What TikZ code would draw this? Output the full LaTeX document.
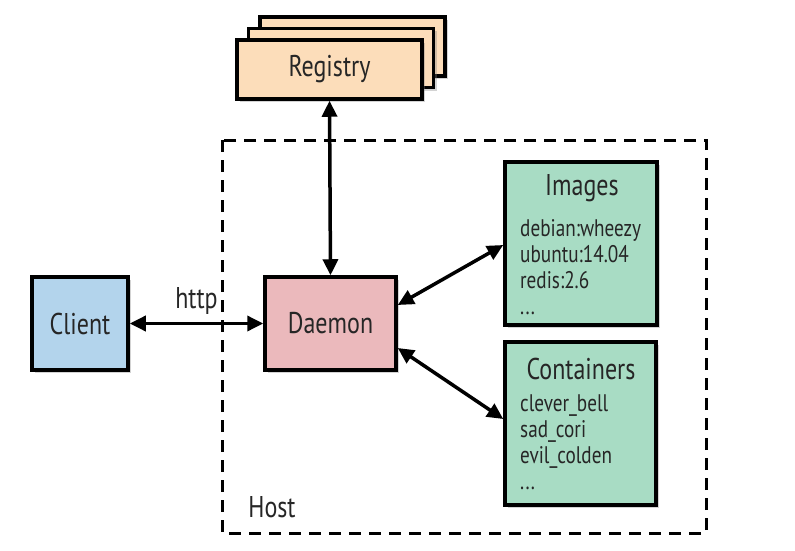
\documentclass[tikz,border=0pt]{standalone}
\usepackage{fontspec}
\setmainfont{PT Sans}[FakeStretch=0.8]
\usetikzlibrary{arrows.meta,shadows}
\definecolor{regfill}{HTML}{FCDDBA}
\definecolor{clifill}{HTML}{B3D4EC}
\definecolor{daefill}{HTML}{EBB9BC}
\definecolor{boxfill}{HTML}{A8DCC4}
\begin{document}
\begin{tikzpicture}[x=1pt,y=-1pt,
  box/.style={draw=black,line width=3.5pt,rectangle,inner sep=0pt,
    drop shadow={opacity=0.35,shadow xshift=3pt,shadow yshift=-3pt},
    font=\fontsize{30}{34}\selectfont,text=black!85},
  title/.style={inner sep=0pt,font=\fontsize{30}{34}\selectfont,text=black!85},
  list/.style={inner sep=0pt,align=left,anchor=north west,
    font=\fontsize{24}{26}\selectfont,text=black!85},
  link/.style={line width=3.5pt,{Triangle[length=16pt,width=15pt]}-{Triangle[length=16pt,width=15pt]}}]
\useasboundingbox (0,0) rectangle (795,551);
% host
\draw [line width=3pt,dash pattern=on 12pt off 8pt] (222,140) rectangle (706,533);
\node [title] (host) at (272,507) {Host};
% registry stack
\node [box,fill=regfill,minimum width=185pt,minimum height=59pt] (reg3) at (352.5,46.5) {};
\node [box,fill=regfill,minimum width=185pt,minimum height=59pt] (reg2) at (341,58) {};
\node [box,fill=regfill,minimum width=185pt,minimum height=59pt] (registry) at (329.5,69.5) {Registry};
% client and daemon
\node [box,fill=clifill,minimum width=96pt,minimum height=93pt] (client) at (80,323.5) {Client};
\node [box,fill=daefill,minimum width=131pt,minimum height=93pt] (daemon) at (330.5,323.5) {Daemon};
% images
\node [box,fill=boxfill,minimum width=152pt,minimum height=163pt] (images) at (581,243.5) {};
\node [title] (imgtitle) at (582,188) {Images};
\node [list] (imglist) at (520,219) {debian:wheezy\\ubuntu:14.04\\redis:2.6\\...};
% containers
\node [box,fill=boxfill,minimum width=151pt,minimum height=163pt] (containers) at (580.5,423.5) {};
\node [title] (contitle) at (581,369) {Containers};
\node [list] (conlist) at (520,394) {clever\_bell\\sad\_cori\\evil\_colden\\...};
% links
\draw [link] (client.east) -- (daemon.west) node [midway,above=7pt,title] (http) {http};
\draw [link] (registry.south) -- (daemon.north);
\draw [link] (daemon.east |- 0,305) -- (images.west |- 0,245);
\draw [link] (daemon.east |- 0,348) -- (containers.west |- 0,419);
\end{tikzpicture}
\end{document}
